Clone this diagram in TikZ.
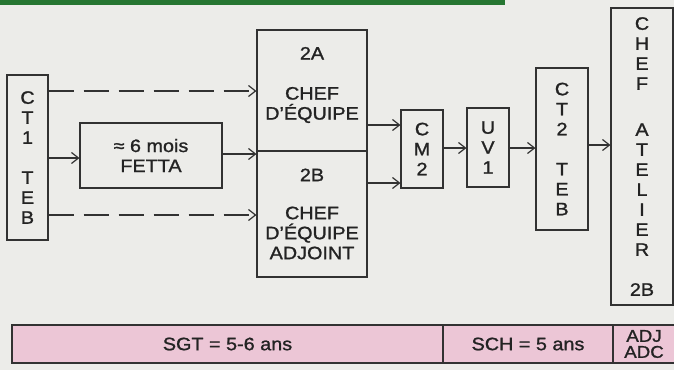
\documentclass[tikz,border=0pt]{standalone}
\usepackage{fontspec}
\setmainfont{Liberation Sans}[FakeStretch=1.1,FakeBold=1.2]
\usetikzlibrary{arrows.meta}
\definecolor{bg}{RGB}{236,236,233}
\definecolor{pinkc}{RGB}{236,198,214}
\definecolor{greenc}{RGB}{38,118,50}
\definecolor{ink}{RGB}{50,50,50}
\definecolor{txt}{RGB}{35,35,35}
\begin{document}
\begin{tikzpicture}[x=1pt,y=-1pt,
  box/.style={draw=ink,line width=1.1pt,inner sep=0pt,align=center,text=txt,
    font=\fontsize{18}{20}\selectfont},
  lbl/.style={inner sep=0pt,align=center,text=txt,font=\fontsize{18}{20}\selectfont},
  cell/.style={box,fill=pinkc},
  arr/.style={draw=ink,line width=1.2pt,-{Straight Barb[length=7pt,width=11pt,line width=1.2pt]}},
  dasharr/.style={arr,line width=2pt,dash pattern=on 25pt off 10pt}]
\useasboundingbox (0,0) rectangle (674,370);
\clip (0,0) rectangle (674,370);
\fill[bg] (0,0) rectangle (674,370);
\fill[greenc] (0,0) rectangle (505,5);

% boxes
\node[box,minimum width=41pt,minimum height=165pt] (ct1) at (27.5,157.5) {C\\T\\1\\[20pt]T\\E\\B};
\node[box,minimum width=142pt,minimum height=65pt] (fetta) at (151,155.5) {≈ 6 mois\\FETTA};
\node[box,minimum width=110pt,minimum height=121pt] (boxA) at (312,90.5) {};
\node[lbl] (txtA) at (312,85) {2A\\[20pt]CHEF\\D'ÉQUIPE};
\node[box,minimum width=110pt,minimum height=126pt] (boxB) at (312,214) {2B\\[18pt]CHEF\\D'ÉQUIPE\\ADJOINT};
\node[box,minimum width=42pt,minimum height=78pt] (cm2) at (422,149) {C\\M\\2};
\node[box,minimum width=42pt,minimum height=79pt] (uv1) at (488,147.5) {U\\V\\1};
\node[box,minimum width=52pt,minimum height=162pt] (ct2) at (562,149) {C\\T\\2\\[20pt]T\\E\\B};
\node[box,minimum width=62pt,minimum height=297pt] (chef) at (642,156.5) {C\\H\\E\\F\\[26pt]A\\T\\E\\L\\I\\E\\R\\[20pt]2B};

% bottom row
\node[cell,minimum width=431pt,minimum height=38pt] (sgt) at (227.5,344) {SGT = 5-6 ans};
\node[cell,minimum width=170pt,minimum height=38pt] (sch) at (528,344) {SCH = 5 ans};
\node[cell,minimum width=62pt,minimum height=38pt,font=\fontsize{17}{16}\selectfont] (adj) at (644,344) {ADJ\\ADC};

% connector levels
\coordinate (yA) at (0,91);
\coordinate (yF) at (0,158);
\coordinate (yF2) at (0,154);
\coordinate (yB) at (0,215);
\coordinate (yC1) at (0,125);
\coordinate (yC2) at (0,183);
\coordinate (yU) at (0,148);
\coordinate (yT) at (0,145);

\draw[dasharr] (ct1.east |- yA) -- (boxA.west |- yA);
\draw[dasharr] (ct1.east |- yB) -- (boxB.west |- yB);
\draw[arr] (ct1.east |- yF) -- (fetta.west |- yF);
\draw[arr] (fetta.east |- yF2) -- (boxA.west |- yF2);
\draw[arr] (boxA.east |- yC1) -- (cm2.west |- yC1);
\draw[arr] (boxB.east |- yC2) -- (cm2.west |- yC2);
\draw[arr] (cm2.east |- yU) -- (uv1.west |- yU);
\draw[arr] (uv1.east |- yU) -- (ct2.west |- yU);
\draw[arr] (ct2.east |- yT) -- (chef.west |- yT);
\end{tikzpicture}
\end{document}
